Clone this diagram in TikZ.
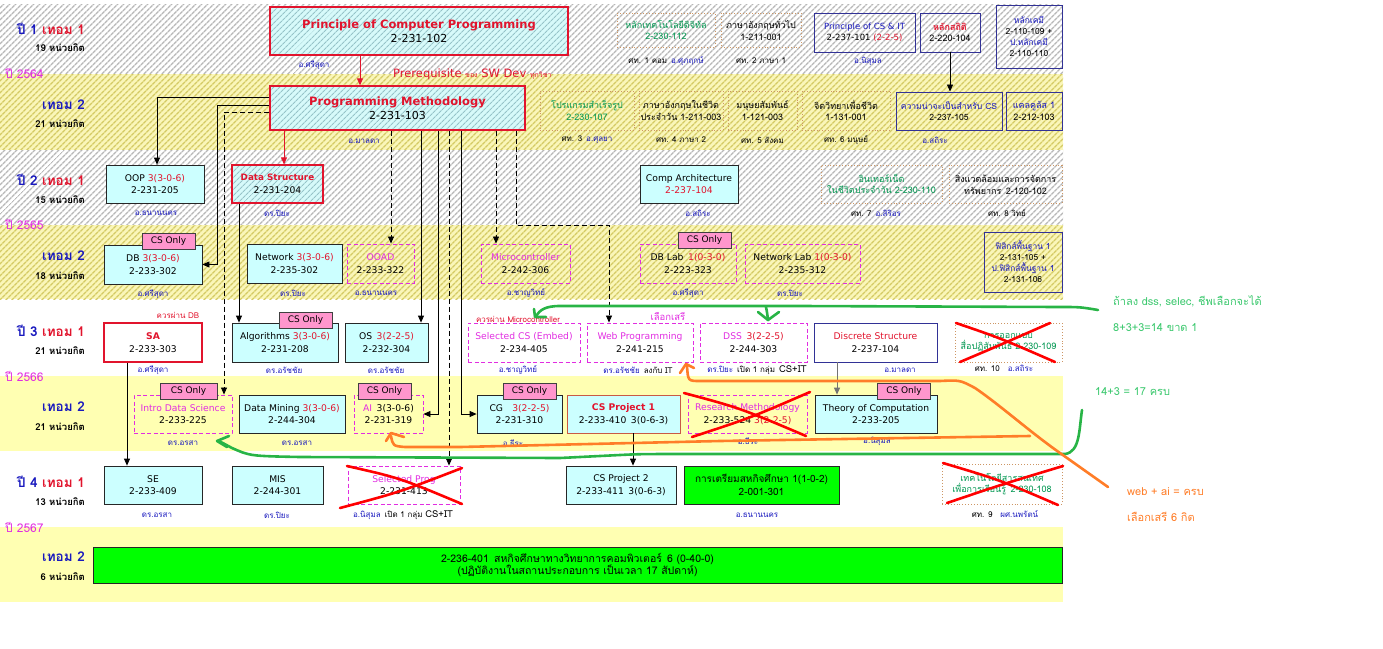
\documentclass[tikz,border=0pt]{standalone}
\usepackage{fontspec}
\setmainfont{DejaVu Sans}
\newfontfamily\thaifont[Script=Thai]{Loma}
\usetikzlibrary{arrows.meta,patterns.meta}
\definecolor{cyanfill}{RGB}{204,255,255}
\definecolor{hatchcyan}{RGB}{215,250,250}
\definecolor{hatchline}{RGB}{150,195,200}
\definecolor{bandyellow}{RGB}{250,246,185}
\definecolor{bandline}{RGB}{212,202,100}
\definecolor{paleyellow}{RGB}{255,255,178}
\definecolor{cred}{RGB}{225,20,45}
\definecolor{cblue}{RGB}{25,25,190}
\definecolor{cmag}{RGB}{225,45,225}
\definecolor{cgreen}{RGB}{0,150,80}
\definecolor{gebrd}{RGB}{205,150,100}
\definecolor{navy}{RGB}{50,50,150}
\definecolor{projbrd}{RGB}{200,90,70}
\definecolor{tagpink}{RGB}{255,150,205}
\definecolor{coopgreen}{RGB}{0,255,0}
\definecolor{pengreen}{RGB}{40,180,70}
\definecolor{penorange}{RGB}{255,125,40}
\definecolor{notegreen}{RGB}{60,200,110}
\tikzset{
    band/.style={pattern={Lines[angle=45,distance=4pt,line width=1.5pt]}},
    grayband/.style={band, preaction={fill=white}, pattern color=black!28},
    yellowband/.style={band, preaction={fill=bandyellow}, pattern color=bandline},
    course/.style={draw=black!85, line width=0.8pt, fill=cyanfill, minimum height=38pt,
    inner sep=1pt, align=center, font=\fontsize{9.2}{12.5}\selectfont},
    keycourse/.style={draw=cred, line width=1.3pt, preaction={fill=hatchcyan},
    pattern={Lines[angle=45,distance=4pt,line width=1.2pt]}, pattern color=hatchline,
    inner sep=1pt, align=center},
    elective/.style={draw=cmag, line width=0.9pt, dash pattern=on 4pt off 2.5pt,
    minimum height=38pt, inner sep=1pt, align=center, font=\fontsize{9.2}{12.5}\selectfont},
    genbox/.style={draw=gebrd, line width=0.9pt, dotted, inner sep=1pt, align=center,
    font=\thaifont\fontsize{9}{11.5}\selectfont},
    basebox/.style={draw=navy, line width=0.9pt, inner sep=1pt, align=center,
    font=\thaifont\fontsize{9}{11.5}\selectfont},
    coopbox/.style={draw=black!85, line width=0.8pt, fill=coopgreen, inner sep=1pt,
    align=center, font=\thaifont\fontsize{10}{12.5}\selectfont},
    cstag/.style={draw=black!75, line width=0.8pt, fill=tagpink, minimum width=53pt,
    minimum height=16pt, inner sep=0pt, font=\fontsize{9}{10}\selectfont},
    lect/.style={text=cblue, inner sep=0pt, font=\thaifont\fontsize{8}{9}\selectfont},
    semlab/.style={anchor=east, inner sep=0pt, font=\thaifont\bfseries\fontsize{13.5}{15}\selectfont},
    credlab/.style={anchor=east, inner sep=0pt, font=\thaifont\bfseries\fontsize{9.5}{11}\selectfont},
    yearlab/.style={anchor=west, inner sep=0pt, text=cmag, font=\thaifont\fontsize{12}{14}\selectfont},
    conn/.style={draw=black, line width=0.8pt, -{Triangle[length=7pt,width=6pt]}},
    redconn/.style={conn, draw=cred},
    pen/.style={line width=2.6pt, line cap=round, line join=round},
    crossmark/.style={draw=red, line width=2.6pt, line cap=round},
    note/.style={anchor=west, inner sep=0pt, font=\thaifont\fontsize{11}{13}\selectfont},
}
\begin{document}
\begin{tikzpicture}[x=1pt, y=-1pt]
\useasboundingbox (0,0) rectangle (1383,648);
% --- background bands ---
\path[grayband] (0,4) rectangle (1063,74);
\path[yellowband] (0,74) rectangle (1063,150);
\path[grayband] (0,150) rectangle (1063,225);
\path[yellowband] (0,225) rectangle (1063,299);
\fill[paleyellow] (0,376) rectangle (1063,451);
\fill[paleyellow] (0,527) rectangle (1063,602);

% --- year 1, term 1 ---
\node[semlab] (s1) at (85,29) {\textcolor{cblue}{ปี 1} \textcolor{cred}{เทอม 1}};
\node[credlab] (c1) at (85,48) {19 หน่วยกิต};
\node[yearlab] (yr1) at (5,73) {ปี 2564};
\node[keycourse, minimum width=298pt, minimum height=48pt, font=\fontsize{11}{14}\selectfont] (pcp) at (419,31)
    {{\bfseries\color{cred}\fontsize{11.5}{14}\selectfont Principle of Computer Programming}\\2-231-102};
\node[lect] at (314,65) {อ.ศรีสุดา};
\node[anchor=west, text=cred, inner sep=0pt, font=\fontsize{11.5}{13}\selectfont] (prereq) at (393,74)
    {Prerequisite {\thaifont\fontsize{7}{8}\selectfont ของ} SW Dev {\thaifont\fontsize{7}{8}\selectfont ทุกวิชา}};
\node[genbox, text=cgreen, minimum width=98pt, minimum height=34pt] (ge1) at (666,30) {หลักเทคโนโลยีดิจิทัล\\2-230-112};
\node[lect, text=black] at (666,61) {ศท. 1 คอม\enspace\textcolor{cblue}{อ.ศุภฤกษ์}};
\node[genbox, minimum width=80pt, minimum height=34pt] (ge2) at (761,30) {ภาษาอังกฤษทั่วไป\\1-211-001};
\node[lect, text=black] at (761,61) {ศท. 2 ภาษา 1};
\node[basebox, minimum width=101pt, minimum height=39pt, font=\fontsize{8.5}{11}\selectfont] (pcsit) at (864.5,32.5)
    {\textcolor{cblue}{Principle of CS \& IT}\\2-237-101 \textcolor{cred}{(2-2-5)}};
\node[lect] at (868,61) {อ.นิสุมล};
\node[basebox, minimum width=60pt, minimum height=39pt] (stat) at (950,32.5) {\textcolor{cred}{\bfseries หลักสถิติ}\\2-220-104};
\node[basebox, minimum width=66pt, minimum height=63pt, font=\thaifont\fontsize{8.5}{11}\selectfont] (chem) at (1029,36.5)
    {\textcolor{cblue}{หลักเคมี}\\2-110-109 +\\\textcolor{cblue}{ป.หลักเคมี}\\2-110-110};

% --- year 1, term 2 ---
\node[semlab] (s2) at (85,105) {\textcolor{cblue}{เทอม 2}};
\node[credlab] (c2) at (85,124) {21 หน่วยกิต};
\node[keycourse, minimum width=255pt, minimum height=44pt, font=\fontsize{11}{14}\selectfont] (pm) at (397.5,108)
    {{\bfseries\color{cred}\fontsize{11.5}{14}\selectfont Programming Methodology}\\2-231-103};
\node[lect] at (364,141) {อ.มาลดา};
\node[genbox, text=cgreen, minimum width=94pt, minimum height=39pt] (ge3) at (587,110.5) {โปรแกรมสำเร็จรูป\\2-230-107};
\node[lect, text=black] at (587,140) {ศท. 3\enspace\textcolor{cblue}{อ.ศุลยา}};
\node[genbox, minimum width=84pt, minimum height=39pt] (ge4) at (681,110.5) {ภาษาอังกฤษในชีวิต\\ประจำวัน 1-211-003};
\node[lect, text=black] at (681,140) {ศท. 4 ภาษา 2};
\node[genbox, minimum width=69pt, minimum height=39pt] (ge5) at (762.5,110.5) {มนุษยสัมพันธ์\\1-121-003};
\node[lect, text=black] at (762.5,140) {ศท. 5 สังคม};
\node[genbox, minimum width=88pt, minimum height=39pt] (ge6) at (846,110.5) {จิตวิทยาเพื่อชีวิต\\1-131-001};
\node[lect, text=black] at (846,140) {ศท. 6 มนุษย์};
\node[basebox, minimum width=106pt, minimum height=38pt, font=\thaifont\fontsize{8.6}{11.5}\selectfont] (prob) at (949,111)
    {\textcolor{cblue}{ความน่าจะเป็นสำหรับ CS}\\2-237-105};
\node[lect] at (935,140) {อ.สถิระ};
\node[basebox, minimum width=56pt, minimum height=38pt] (calc) at (1034,111) {\textcolor{cblue}{แคลคูลัส 1}\\2-212-103};

% --- year 2, term 1 ---
\node[semlab] (s3) at (85,180) {\textcolor{cblue}{ปี 2} \textcolor{cred}{เทอม 1}};
\node[credlab] (c3) at (85,200) {15 หน่วยกิต};
\node[yearlab] (yr2) at (5,224) {ปี 2565};
\node[course, minimum width=98pt] (oop) at (155,184) {OOP \textcolor{cred}{3(3-0-6)}\\2-231-205};
\node[lect] at (156,213) {อ.ธนานนคร};
\node[keycourse, minimum width=91pt, minimum height=38pt, font=\fontsize{9.2}{12.5}\selectfont] (ds) at (277.5,184)
    {{\bfseries\color{cred}\fontsize{8.8}{12}\selectfont Data Structure}\\2-231-204};
\node[lect] at (277,213) {ดร.ปิยะ};
\node[course, minimum width=98pt] (arch) at (689,184) {Comp Architecture\\\textcolor{cred}{2-237-104}};
\node[lect] at (698,213) {อ.สถิระ};
\node[genbox, text=cgreen, minimum width=121pt, minimum height=38pt] (ge7) at (881.5,184) {อินเทอร์เน็ต\\ในชีวิตประจำวัน 2-230-110};
\node[lect, text=black] at (876,213) {ศท. 7\enspace\textcolor{cblue}{อ.สิริอร}};
\node[genbox, minimum width=113pt, minimum height=38pt] (ge8) at (1005.5,184) {สิ่งแวดล้อมและการจัดการ\\ทรัพยากร\enspace 2-120-102};
\node[lect, text=black] at (1007,213) {ศท. 8 วิทย์};

% --- year 2, term 2 ---
\node[semlab] (s4) at (85,256) {\textcolor{cblue}{เทอม 2}};
\node[credlab] (c4) at (85,276) {18 หน่วยกิต};
\node[course, minimum width=98pt, minimum height=39pt] (db) at (153,264.5) {DB \textcolor{cred}{3(3-0-6)}\\2-233-302};
\node[cstag] (dbtag) at (168.5,241) {CS Only};
\node[lect] at (153,294) {อ.ศรีสุดา};
\node[course, minimum width=95pt, minimum height=39pt] (net) at (294.5,263.5) {Network \textcolor{cred}{3(3-0-6)}\\2-235-302};
\node[lect] at (293,293) {ดร.ปิยะ};
\node[elective, minimum width=67pt, minimum height=39pt] (ooad) at (380.5,263.5) {\textcolor{cmag}{OOAD}\\2-233-322};
\node[lect] at (376,293) {อ.ธนานนคร};
\node[elective, minimum width=89pt, minimum height=39pt] (micro) at (525.5,263.5) {\textcolor{cmag}{Microcontroller}\\2-242-306};
\node[lect] at (526,293) {อ.ชาญวิทย์};
\node[elective, minimum width=96pt, minimum height=39pt] (dblab) at (688,263.5) {DB Lab\enspace\textcolor{cred}{1(0-3-0)}\\2-223-323};
\node[cstag] (dblabtag) at (704.5,240.5) {CS Only};
\node[lect] at (688,293) {อ.ศรีสุดา};
\node[elective, minimum width=115pt, minimum height=39pt] (netlab) at (802.5,263.5) {Network Lab \textcolor{cred}{1(0-3-0)}\\2-235-312};
\node[lect] at (790,293) {ดร.ปิยะ};
\node[basebox, minimum width=78pt, minimum height=60pt, font=\thaifont\fontsize{8.4}{11}\selectfont] (phys) at (1023,262)
    {\textcolor{cblue}{ฟิสิกส์พื้นฐาน 1}\\2-131-105 +\\\textcolor{cblue}{ป.ฟิสิกส์พื้นฐาน 1}\\2-131-106};

% --- year 3, term 1 ---
\node[semlab] (s5) at (85,331) {\textcolor{cblue}{ปี 3} \textcolor{cred}{เทอม 1}};
\node[credlab] (c5) at (85,351) {21 หน่วยกิต};
\node[yearlab] (yr3) at (5,376) {ปี 2566};
\node[lect, text=cred] at (178,315) {ควรผ่าน DB};
\node[course, draw=cred, line width=1.2pt, fill=white, minimum width=98pt, minimum height=39pt] (sa) at (153,342.5)
    {{\bfseries\color{cred}SA}\\2-233-303};
\node[lect] at (153,370) {อ.ศรีสุดา};
\node[course, minimum width=106pt, minimum height=39pt] (algo) at (285,342.5) {Algorithms \textcolor{cred}{3(3-0-6)}\\2-231-208};
\node[cstag] (algotag) at (305.5,320) {CS Only};
\node[lect] at (284,370) {ดร.อรัชชัย};
\node[course, minimum width=83pt, minimum height=39pt] (os) at (386.5,342.5) {OS\enspace\textcolor{cred}{3(2-2-5)}\\2-232-304};
\node[lect] at (386,370) {ดร.อรัชชัย};
\node[lect, text=cred] at (518,319) {ควรผ่าน Microcontroller};
\node[lect, text=cmag, font=\thaifont\fontsize{9.5}{10}\selectfont] at (668,316) {เลือกเสรี};
\node[elective, minimum width=112pt, minimum height=39pt] (selcs) at (524,342.5) {\textcolor{cmag}{Selected CS (Embed)}\\2-234-405};
\node[lect] at (518,370) {อ.ชาญวิทย์};
\node[elective, minimum width=106pt, minimum height=39pt] (web) at (640,342.5) {\textcolor{cmag}{Web Programming}\\2-241-215};
\node[lect] at (638,370) {ดร.อรัชชัย\enspace\textcolor{black}{ลงกับ IT}};
\node[elective, minimum width=107pt, minimum height=39pt] (dss) at (753.5,342.5) {\textcolor{cmag}{DSS}\enspace\textcolor{cred}{3(2-2-5)}\\2-244-303};
\node[lect] at (757,370) {ดร.ปิยะ\enspace\textcolor{black}{เปิด 1 กลุ่ม\enspace{\fontsize{9.5}{10}\selectfont CS+IT}}};
\node[basebox, minimum width=123pt, minimum height=39pt, font=\fontsize{9.2}{12.5}\selectfont] (disc) at (875.5,342.5)
    {\textcolor{cred}{Discrete Structure}\\2-237-104};
\node[lect] at (900,370) {อ.มาลดา};
\node[genbox, text=cgreen, minimum width=107pt, minimum height=39pt] (ge10) at (1008.5,342.5) {การออกแบบ\\สื่อปฏิสัมพันธ์ 2-230-109};
\node[lect, text=black] at (1004,368) {ศท. 10\quad\textcolor{cblue}{อ.สถิระ}};

% --- year 3, term 2 ---
\node[semlab] (s6) at (85,407) {\textcolor{cblue}{เทอม 2}};
\node[credlab] (c6) at (85,427) {21 หน่วยกิต};
\node[elective, minimum width=98pt, minimum height=38pt] (ids) at (183,414) {\textcolor{cmag}{Intro Data Science}\\2-233-225};
\node[cstag, minimum width=57pt] (idstag) at (188.5,391) {CS Only};
\node[lect] at (183,443) {ดร.อรสา};
\node[course, minimum width=106pt] (dm) at (292,414) {Data Mining \textcolor{cred}{3(3-0-6)}\\2-244-304};
\node[lect] at (297,443) {ดร.อรสา};
\node[elective, minimum width=69pt, minimum height=38pt] (ai) at (388.5,414) {\textcolor{cmag}{AI}\enspace 3(3-0-6)\\2-231-319};
\node[cstag] (aitag) at (384.5,391) {CS Only};
\node[course, minimum width=85pt] (cg) at (519.5,414) {CG\quad\textcolor{cred}{3(2-2-5)}\\2-231-310};
\node[cstag] (cgtag) at (529.5,391) {CS Only};
\node[lect] at (513,443) {อ.ธีระ};
\node[course, draw=projbrd, minimum width=113pt] (csp1) at (623.5,414) {{\bfseries\color{cred}CS Project 1}\\2-233-410\enspace 3(0-6-3)};
\node[elective, minimum width=119pt, minimum height=38pt] (rm) at (747.5,414) {\textcolor{cmag}{Research Methodology}\\2-233-524 \textcolor{cred}{3(2-2-5)}};
\node[lect] at (748,441) {อ.ธีระ};
\node[course, minimum width=122pt] (toc) at (876,414) {Theory of Computation\\2-233-205};
\node[cstag] (toctag) at (904,391) {CS Only};
\node[lect] at (877,441) {อ.นิสุมล};

% --- year 4, term 1 ---
\node[semlab] (s7) at (85,482) {\textcolor{cblue}{ปี 4} \textcolor{cred}{เทอม 1}};
\node[credlab] (c7) at (85,502) {13 หน่วยกิต};
\node[yearlab] (yr4) at (5,527) {ปี 2567};
\node[course, minimum width=98pt] (se) at (153,485) {SE\\2-233-409};
\node[lect] at (157,515) {ดร.อรสา};
\node[course, minimum width=91pt] (mis) at (277.5,485) {MIS\\2-244-301};
\node[lect] at (277,515) {ดร.ปิยะ};
\node[elective, minimum width=112pt, minimum height=38pt] (selp) at (404,485) {\textcolor{cmag}{Selected Prog}\\2-231-413};
\node[lect] at (403,515) {อ.นิสุมล\enspace\textcolor{black}{เปิด 1 กลุ่ม {\fontsize{9.5}{10}\selectfont CS+IT}}};
\node[course, minimum width=110pt] (csp2) at (621,485) {CS Project 2\\2-233-411\enspace 3(0-6-3)};
\node[coopbox, minimum width=155pt, minimum height=38pt] (prep) at (761.5,485) {การเตรียมสหกิจศึกษา 1(1-0-2)\\2-001-301};
\node[lect] at (757,515) {อ.ธนานนคร};
\node[genbox, text=cgreen, minimum width=120pt, minimum height=40pt] (ge9) at (1002,484) {เทคโนโลยีสารสนเทศ\\เพื่อการเรียนรู้\enspace 2-230-108};
\node[lect, text=black] at (1005,514) {ศท. 9\quad\textcolor{cblue}{ผศ.นพรัตน์}};

% --- year 4, term 2 ---
\node[semlab] (s8) at (85,557) {\textcolor{cblue}{เทอม 2}};
\node[credlab] (c8) at (85,577) {6 หน่วยกิต};
\node[coopbox, minimum width=969pt, minimum height=36pt, font=\thaifont\fontsize{10.5}{12.5}\selectfont] (coop) at (577.5,565)
    {2-236-401\enspace สหกิจศึกษาทางวิทยาการคอมพิวเตอร์\enspace 6 (0-40-0)\\(ปฏิบัติงานในสถานประกอบการ เป็นเวลา 17 สัปดาห์)};

% --- prerequisite lines ---
\draw[redconn] (360,0 |- pcp.south) -- (360,0 |- pm.north);
\draw[conn] ([yshift=11pt]pm.west) -| (157,0 |- oop.north);
\draw[conn] ([yshift=3pt]pm.west) -| (217,0 |- db.east) -- (db.east);
\draw[conn, dash pattern=on 5pt off 3pt] ([yshift=-4pt]pm.west) -| (224,0 |- ids.north);
\draw[redconn] (284,0 |- pm.south) -- (284,0 |- ds.north);
\draw[conn] (239,0 |- ds.south) -- (239,0 |- algo.north);
\draw[conn, dash pattern=on 5pt off 3pt] (391,0 |- pm.south) -- (391,0 |- ooad.north);
\draw[conn] (421,0 |- pm.south) -- (421,0 |- os.north);
\draw[conn] (438,0 |- pm.south) |- (ai.east);
\draw[conn, dash pattern=on 5pt off 3pt] (449,0 |- pm.south) -- (449,0 |- selp.north);
\draw[conn] (461,0 |- pm.south) |- (cg.west);
\draw[conn, dash pattern=on 5pt off 3pt] (496,0 |- pm.south) -- (496,0 |- micro.north);
\draw[conn, dash pattern=on 5pt off 3pt] (516,0 |- pm.south) -- (516,225) -| (609,0 |- web.north);
\draw[conn] (127,0 |- sa.south) -- (127,0 |- se.north);
\draw[conn] (633,0 |- csp1.south) -- (633,0 |- csp2.north);
\draw[conn, draw=black!55] (837,0 |- disc.south) -- (837,0 |- toc.north);
\draw[conn] (950,0 |- stat.south) -- (950,0 |- prob.north);

% --- crossed out ---
\draw[crossmark] (684,393) .. controls (740,408) .. (806,436);
\draw[crossmark] (692,437) .. controls (750,418) .. (810,392);
\draw[crossmark] (347,466) .. controls (400,478) .. (462,504);
\draw[crossmark] (340,508) .. controls (400,492) .. (462,468);
\draw[crossmark] (956,323) .. controls (1000,338) .. (1055,362);
\draw[crossmark] (960,362) .. controls (1000,345) .. (1050,323);
\draw[crossmark] (943,463) .. controls (1000,480) .. (1058,505);
\draw[crossmark] (947,503) .. controls (1000,485) .. (1063,466);

% --- hand notes ---
\draw[pen, pengreen] (1098,310) .. controls (1080,307) .. (1060,307) -- (800,306) -- (560,306)
    .. controls (545,306) and (540,310) .. (536,316);
\draw[pen, pengreen] (534,309) -- (535,317) -- (546,317);
\draw[pen, pengreen] (766,307) .. controls (767,312) .. (768,320);
\draw[pen, pengreen] (758,312) -- (768,320) -- (779,312);
\draw[pen, pengreen] (1082,410) .. controls (1079,430) and (1080,452) .. (1065,454) -- (700,454)
    .. controls (640,454) .. (620,455) -- (560,458) -- (300,457) .. controls (250,456) .. (232,448) -- (219,441);
\draw[pen, pengreen] (229,436) -- (217,441) -- (227,447);
\draw[pen, penorange] (1108,487) -- (1060,453) .. controls (1030,432) and (1000,405) .. (975,388)
    .. controls (960,380) .. (940,381) -- (700,381) .. controls (688,381) .. (687,366);
\draw[pen, penorange] (680,373) -- (686,364) -- (694,368);
\draw[pen, penorange] (1030,436) -- (720,441) -- (460,447) -- (405,447) .. controls (393,446) .. (391,436);
\draw[pen, penorange] (386,441) -- (391,433) -- (404,437);
\node[note, text=notegreen] (n1) at (1113,301) {ถ้าลง dss, selec, ชีพเลือกจะได้};
\node[note, text=notegreen] (n2) at (1113,328) {8+3+3=14 ขาด 1};
\node[note, text=notegreen] (n3) at (1095,392) {14+3 = 17 ครบ};
\node[note, text=penorange] (n4) at (1127,492) {web + ai = ครบ};
\node[note, text=penorange] (n5) at (1127,517) {เลือกเสรี 6 กิต};
\end{tikzpicture}
\end{document}
